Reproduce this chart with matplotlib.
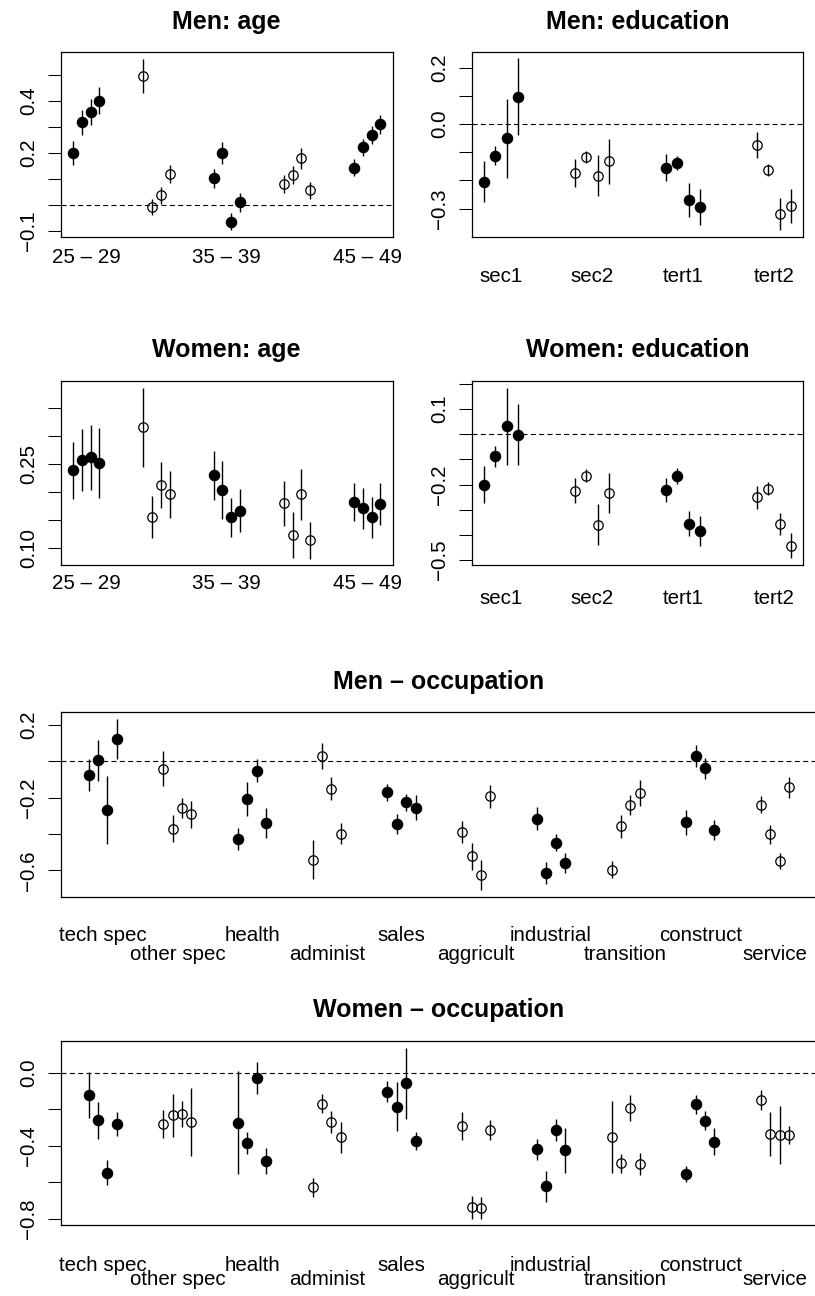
import matplotlib
matplotlib.use("Agg")
import matplotlib.pyplot as plt
import numpy as np

plt.rcParams['font.family'] = ['Liberation Sans', 'DejaVu Sans']

# ---- data -------------------------------------------------------------
age_groups = ["25 \u2013 29", "30 \u2013 34", "35 \u2013 39", "40 \u2013 44", "45 \u2013 49"]
edu_groups = ["sec1", "sec2", "tert1", "tert2"]
occ_groups = ["tech spec", "other spec", "health", "administ", "sales",
              "aggricult", "industrial", "transition", "construct", "service"]

men_age_est = [0.198, 0.317, 0.356, 0.400, 0.494, -0.008, 0.038, 0.119,
               0.102, 0.200, -0.063, 0.010, 0.080, 0.115, 0.180, 0.057,
               0.143, 0.221, 0.268, 0.309]
men_age_err = [0.046, 0.048, 0.049, 0.053, 0.065, 0.031, 0.033, 0.035,
               0.035, 0.043, 0.032, 0.035, 0.035, 0.035, 0.040, 0.032,
               0.032, 0.033, 0.035, 0.035]

women_age_est = [0.238, 0.256, 0.261, 0.252, 0.315, 0.155, 0.2125, 0.195,
                 0.229, 0.203, 0.154, 0.166, 0.179, 0.123, 0.195, 0.113,
                 0.182, 0.170, 0.154, 0.178]
women_age_err = [0.051, 0.055, 0.058, 0.0625, 0.0705, 0.038, 0.041, 0.042,
                 0.044, 0.0515, 0.035, 0.038, 0.040, 0.041, 0.045, 0.033,
                 0.034, 0.036, 0.037, 0.038]

men_edu_est = [-0.205, -0.112, -0.051, 0.097, -0.174, -0.118, -0.183, -0.133,
               -0.155, -0.140, -0.269, -0.295, -0.075, -0.164, -0.318, -0.291]
men_edu_err = [0.072, 0.035, 0.140, 0.136, 0.050, 0.021, 0.073, 0.081,
               0.049, 0.025, 0.060, 0.063, 0.045, 0.021, 0.057, 0.060]

women_edu_est = [-0.2005, -0.088, 0.032, -0.001, -0.224, -0.165, -0.360, -0.234,
                 -0.222, -0.166, -0.356, -0.386, -0.251, -0.216, -0.359, -0.444]
women_edu_err = [0.073, 0.041, 0.154, 0.121, 0.050, 0.026, 0.081, 0.078,
                 0.048, 0.031, 0.051, 0.059, 0.045, 0.025, 0.044, 0.050]

men_occ_est = [-0.075, 0.0055, -0.268, 0.123,
               -0.040, -0.371, -0.259, -0.292,
               -0.4275, -0.207, -0.051, -0.339,
               -0.541, 0.031, -0.152, -0.398,
               -0.171, -0.345, -0.226, -0.255,
               -0.389, -0.523, -0.626, -0.193,
               -0.317, -0.613, -0.448, -0.560,
               -0.596, -0.358, -0.240, -0.174,
               -0.336, 0.031, -0.0385, -0.378,
               -0.2385, -0.402, -0.549, -0.143]
men_occ_err = [0.089, 0.112, 0.189, 0.110,
               0.0945, 0.075, 0.055, 0.073,
               0.060, 0.0945, 0.061, 0.081,
               0.109, 0.072, 0.063, 0.058,
               0.046, 0.055, 0.048, 0.069,
               0.058, 0.073, 0.081, 0.064,
               0.063, 0.060, 0.048, 0.057,
               0.047, 0.064, 0.055, 0.070,
               0.070, 0.061, 0.059, 0.054,
               0.045, 0.053, 0.042, 0.057]

women_occ_est = [-0.1225, -0.261, -0.548, -0.283,
                 -0.2815, -0.234, -0.227, -0.272,
                 -0.274, -0.386, -0.031, -0.486,
                 -0.629, -0.170, -0.2705, -0.355,
                 -0.104, -0.186, -0.0585, -0.373,
                 -0.2925, -0.739, -0.740, -0.316,
                 -0.420, -0.623, -0.314, -0.426,
                 -0.353, -0.4955, -0.194, -0.501,
                 -0.556, -0.174, -0.263, -0.378,
                 -0.152, -0.336, -0.342, -0.342]
women_occ_err = [0.124, 0.102, 0.068, 0.067,
                 0.079, 0.117, 0.070, 0.186,
                 0.283, 0.061, 0.088, 0.071,
                 0.051, 0.051, 0.059, 0.087,
                 0.058, 0.136, 0.194, 0.049,
                 0.077, 0.062, 0.060, 0.054,
                 0.059, 0.086, 0.060, 0.124,
                 0.197, 0.052, 0.073, 0.059,
                 0.046, 0.050, 0.054, 0.073,
                 0.055, 0.119, 0.161, 0.051]

# ---- figure -----------------------------------------------------------
W, H = 815, 1296
fig = plt.figure(figsize=(W / 100, H / 100), dpi=100)

TICK_FS = 14.8
TITLE_FS = 18


def add_box(x0, y0, x1, y1):
    # pixel box (top-left origin) -> figure fraction axes
    return fig.add_axes([x0 / W, 1 - y1 / H, (x1 - x0) / W, (y1 - y0) / H])


def panel(ax, est, err, groups, title, ylim, yticks, ylabels, zero=True):
    est = np.array(est)
    err = np.array(err)
    n = len(groups)
    offs = np.array([-0.1875, -0.0625, 0.0625, 0.1875])
    x = (np.arange(1, n + 1)[:, None] + offs[None, :]).ravel()
    filled = np.repeat(np.arange(n) % 2 == 0, 4)

    if zero:
        ax.axhline(0, color='black', lw=0.8, ls=(0, (4.5, 3)), zorder=1)
    ax.vlines(x, est - err, est + err, color='black', lw=1.0, zorder=2)
    ax.plot(x[filled], est[filled], 'o', ms=7.3, color='black', zorder=3)
    ax.plot(x[~filled], est[~filled], 'o', ms=6.8, mfc='none',
            mec='black', mew=0.9, zorder=4, linestyle='none')

    pad = 0.04 * (n - 1 + 0.375)
    ax.set_xlim(1 - 0.1875 - pad, n + 0.1875 + pad)
    ax.set_ylim(*ylim)
    ax.set_yticks(yticks)
    ax.set_yticklabels(ylabels, rotation=90, va='center', fontsize=TICK_FS)
    ax.tick_params(axis='y', direction='out', length=9.4, width=0.75, pad=7)
    for s in ax.spines.values():
        s.set_linewidth(0.9)
    ax.set_title(title, fontsize=TITLE_FS, fontweight='bold', pad=17)
    return ax


# Men: age
ax = add_box(60.7, 52.3, 392.7, 236.7)
panel(ax, men_age_est, men_age_err, age_groups, "Men: age", (-0.121, 0.585),
      [-0.1, 0.0, 0.1, 0.2, 0.3, 0.4, 0.5],
      ["\u22120.1", "", "", "0.2", "", "0.4", ""])
ax.set_xticks([1, 3, 5])
ax.set_xticklabels(age_groups[::2], fontsize=TICK_FS)
ax.tick_params(axis='x', length=0, pad=8)

# Men: education
ax = add_box(471.7, 52.3, 803.3, 236.7)
panel(ax, men_edu_est, men_edu_err, edu_groups, "Men: education", (-0.4, 0.2544),
      [-0.3, -0.2, -0.1, 0.0, 0.1, 0.2],
      ["\u22120.3", "", "", "0.0", "", "0.2"])
ax.set_xticks([1, 2, 3, 4])
ax.set_xticklabels(edu_groups, fontsize=TICK_FS)
ax.tick_params(axis='x', length=0, pad=22)

# Women: age
ax = add_box(60.7, 381, 392.7, 565.3)
panel(ax, women_age_est, women_age_err, age_groups, "Women: age", (0.0685, 0.3976),
      [0.10, 0.15, 0.20, 0.25, 0.30, 0.35],
      ["0.10", "", "", "0.25", "", ""], zero=False)
ax.set_xticks([1, 3, 5])
ax.set_xticklabels(age_groups[::2], fontsize=TICK_FS)
ax.tick_params(axis='x', length=0, pad=6)

# Women: education
ax = add_box(471.7, 381, 803.3, 565.3)
panel(ax, women_edu_est, women_edu_err, edu_groups, "Women: education", (-0.522, 0.2125),
      [-0.5, -0.4, -0.3, -0.2, -0.1, 0.0, 0.1, 0.2],
      ["\u22120.5", "", "", "\u22120.2", "", "", "0.1", ""])
ax.set_xticks([1, 2, 3, 4])
ax.set_xticklabels(edu_groups, fontsize=TICK_FS)
ax.tick_params(axis='x', length=0, pad=17)


def occ_xlabels(ax, pad1, pad2):
    # alternate labels on two lines so they do not collide
    ax.set_xticks(np.arange(1, 11, 2))
    ax.set_xticklabels(occ_groups[::2], fontsize=TICK_FS)
    ax.set_xticks(np.arange(2, 11, 2), minor=True)
    ax.set_xticklabels(occ_groups[1::2], minor=True, fontsize=TICK_FS)
    ax.tick_params(axis='x', which='major', length=0, pad=pad1)
    ax.tick_params(axis='x', which='minor', length=0, pad=pad2)


# Men - occupation
ax = add_box(60.7, 712.3, 817, 896.7)
panel(ax, men_occ_est, men_occ_err, occ_groups, "Men \u2013 occupation", (-0.745, 0.2697),
      [-0.6, -0.4, -0.2, 0.0, 0.2],
      ["\u22120.6", "", "\u22120.2", "", "0.2"])
occ_xlabels(ax, 21, 35)

# Women - occupation
ax = add_box(60.7, 1041, 817, 1225.3)
panel(ax, women_occ_est, women_occ_err, occ_groups, "Women \u2013 occupation", (-0.837, 0.1737),
      [-0.8, -0.6, -0.4, -0.2, 0.0],
      ["\u22120.8", "", "\u22120.4", "", "0.0"])
occ_xlabels(ax, 22, 32)

fig.savefig("out.png", dpi=100)
